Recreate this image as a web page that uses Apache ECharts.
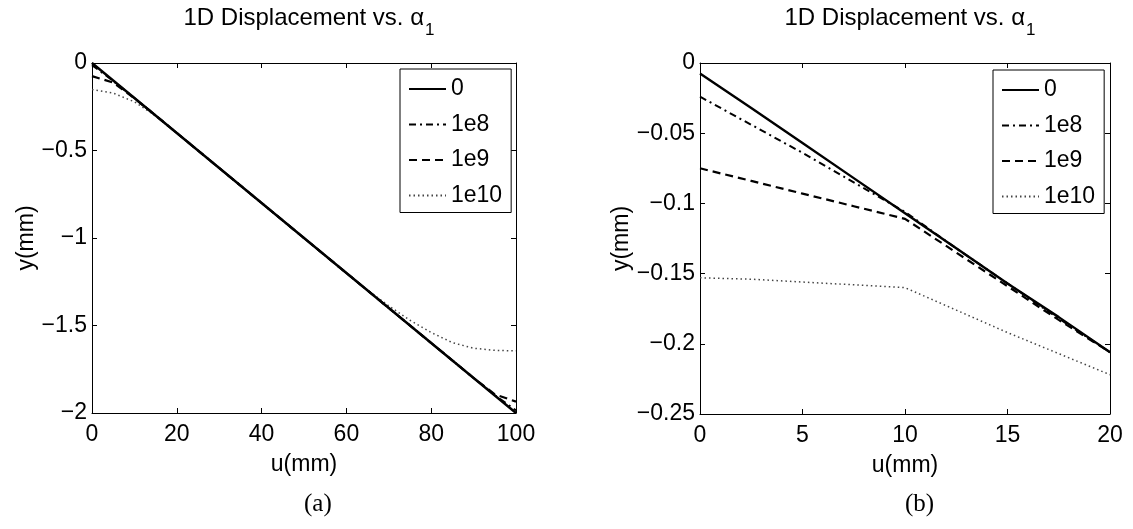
<!DOCTYPE html>
<html>
<head>
<meta charset="utf-8">
<script src="https://cdn.jsdelivr.net/npm/echarts@6/dist/echarts.min.js"></script>
<style>
  html, body { margin: 0; padding: 0; background: #fff; }
  #chart { width: 1133px; height: 529px; }
</style>
</head>
<body>
<div id="chart"></div>
<script>
// Panel (a): full 100 mm span
const uA = [0, 5, 10, 15, 20, 25, 30, 35, 40, 45, 50, 55, 60, 65, 70, 75, 80, 85, 90, 95, 100];
const yA_0    = [0, -0.1, -0.2, -0.3, -0.4, -0.5, -0.6, -0.7, -0.8, -0.9, -1.0, -1.1, -1.2, -1.3, -1.4, -1.5, -1.6, -1.7, -1.8, -1.9, -2.0];
const yA_1e8  = [-0.012, -0.102, -0.2, -0.3, -0.4, -0.5, -0.6, -0.7, -0.8, -0.9, -1.0, -1.1, -1.2, -1.3, -1.4, -1.5, -1.6, -1.7, -1.8, -1.898, -1.985];
const yA_1e9  = [-0.075, -0.112, -0.202, -0.3, -0.4, -0.5, -0.6, -0.7, -0.8, -0.9, -1.0, -1.1, -1.2, -1.3, -1.4, -1.5, -1.6, -1.7, -1.8, -1.893, -1.935];
const yA_1e10 = [-0.152, -0.172, -0.222, -0.302, -0.4, -0.5, -0.6, -0.7, -0.8, -0.9, -1.0, -1.1, -1.2, -1.298, -1.388, -1.47, -1.54, -1.598, -1.63, -1.642, -1.645];

// Panel (b): first 20 mm
const uB = [0, 2.5, 5, 7.5, 10, 12.5, 15, 17.5, 20];
const yB_0    = [-0.0075, -0.032, -0.057, -0.082, -0.107, -0.132, -0.157, -0.181, -0.206];
const yB_1e8  = [-0.024, -0.044, -0.064, -0.085, -0.106, -0.132, -0.157, -0.182, -0.206];
const yB_1e9  = [-0.075, -0.084, -0.093, -0.102, -0.111, -0.135, -0.159, -0.183, -0.206];
const yB_1e10 = [-0.153, -0.154, -0.156, -0.158, -0.160, -0.176, -0.192, -0.207, -0.222];

const seriesNames = ['0', '1e8', '1e9', '1e10'];

// Tick labels
const xTicksA = ['0', '20', '40', '60', '80', '100'];
const yTicksA = ['0', '\u22120.5', '\u22121', '\u22121.5', '\u22122'];
const xTicksB = ['0', '5', '10', '15', '20'];
const yTicksB = ['0', '\u22120.05', '\u22120.1', '\u22120.15', '\u22120.2', '\u22120.25'];

const titleText = '1D Displacement vs. \u03b1';
const titleSub = '1';
const panelTags = ['(a)', '(b)'];

const FONT = 'Liberation Sans, Arial, Helvetica, sans-serif';
const SERIF = 'Liberation Serif, DejaVu Serif, serif';

const lineStyles = [
  { color: '#000', width: 2.4, type: 'solid' },
  { color: '#000', width: 2, type: [7, 4, 2, 4] },
  { color: '#000', width: 2.2, type: [8, 5] },
  { color: '#444', width: 1.5, type: [1.5, 3] }
];

function pairs(xs, ys) { return xs.map((x, i) => [x, ys[i]]); }
function tickFmt(labels, step) {
  return v => labels[Math.round(Math.abs(v) / step)] ?? '';
}

const chart = echarts.init(document.getElementById('chart'), null, { renderer: 'canvas' });

const grids = [
  { left: 92, top: 63, width: 424, height: 350 },
  { left: 700, top: 63, width: 410, height: 351 }
];

const axisLine = { show: true, onZero: false, lineStyle: { color: '#000', width: 1 } };
const tickIn = { show: true, inside: true, length: 5, lineStyle: { color: '#000', width: 1 } };
const labelStyle = { color: '#000', fontFamily: FONT, fontSize: 23 };

function xAxes(gi, max, interval, labels) {
  return [
    { type: 'value', gridIndex: gi, position: 'bottom', min: 0, max, interval,
      axisLine, axisTick: tickIn, splitLine: { show: false },
      axisLabel: Object.assign({ margin: 10, formatter: tickFmt(labels, interval) }, labelStyle),
      name: 'u(mm)', nameLocation: 'middle', nameGap: 40,
      nameTextStyle: { color: '#000', fontFamily: FONT, fontSize: 23 } },
    { type: 'value', gridIndex: gi, position: 'top', min: 0, max, interval,
      axisLine, axisTick: tickIn, splitLine: { show: false }, axisLabel: { show: false } }
  ];
}
function yAxes(gi, min, interval, labels, gap) {
  return [
    { type: 'value', gridIndex: gi, position: 'left', min, max: 0, interval,
      axisLine, axisTick: tickIn, splitLine: { show: false },
      axisLabel: Object.assign({ margin: 5, formatter: tickFmt(labels, interval) }, labelStyle),
      name: 'y(mm)', nameLocation: 'middle', nameGap: gap, nameRotate: 90,
      nameTextStyle: { color: '#000', fontFamily: FONT, fontSize: 23 } },
    { type: 'value', gridIndex: gi, position: 'right', min, max: 0, interval,
      axisLine, axisTick: tickIn, splitLine: { show: false }, axisLabel: { show: false } }
  ];
}

function makeSeries(xIdx, yIdx, xs, ysList) {
  return ysList.map((ys, i) => ({
    name: seriesNames[i], type: 'line', xAxisIndex: xIdx, yAxisIndex: yIdx,
    data: pairs(xs, ys), symbol: 'none', smooth: false, silent: true,
    lineStyle: lineStyles[i], itemStyle: { color: lineStyles[i].color },
    z: 10 - i
  }));
}

function legendAt(left, top) {
  return {
    orient: 'vertical', left, top, data: seriesNames,
    itemWidth: 37, itemHeight: 26, itemGap: 9.5,
    padding: [7, 9, 4, 8],
    borderColor: '#000', borderWidth: 1, borderRadius: 0, backgroundColor: '#fff',
    selectedMode: false,
    itemStyle: { opacity: 0 },
    textStyle: { color: '#000', fontFamily: FONT, fontSize: 23, lineHeight: 26 }
  };
}

// Title with a lowered subscript on alpha
function titleAt(cx) {
  return {
    text: '{m|' + titleText + '}{s|' + titleSub + '}',
    left: cx, top: -2, textAlign: 'center',
    textStyle: {
      fontWeight: 'normal',
      rich: {
        m: { fontFamily: FONT, fontSize: 24, fontWeight: 'normal', color: '#000', lineHeight: 30 },
        s: { fontFamily: FONT, fontSize: 17, fontWeight: 'normal', color: '#000', lineHeight: 30, padding: [24, 0, 0, 1] }
      }
    }
  };
}

const option = {
  animation: false,
  backgroundColor: '#fff',
  title: [titleAt(304), titleAt(905)],
  legend: [legendAt(400, 69), legendAt(993, 70)],
  grid: grids,
  xAxis: [...xAxes(0, 100, 20, xTicksA), ...xAxes(1, 20, 5, xTicksB)],
  yAxis: [...yAxes(0, -2, 0.5, yTicksA, 48), ...yAxes(1, -0.25, 0.05, yTicksB, 62)],
  series: [
    ...makeSeries(0, 0, uA, [yA_0, yA_1e8, yA_1e9, yA_1e10]),
    ...makeSeries(2, 2, uB, [yB_0, yB_1e8, yB_1e9, yB_1e10])
  ],
  graphic: panelTags.map((t, i) => ({
    type: 'text', left: i === 0 ? 304 : 905, top: 492,
    style: { text: t, fontFamily: SERIF, fontSize: 25, fill: '#000', textAlign: 'center' }
  }))
};

chart.setOption(option);
</script>
</body>
</html>
